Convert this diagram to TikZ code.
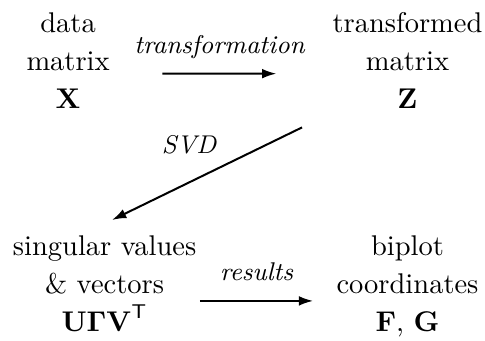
\documentclass[tikz,border=0pt]{standalone}
\usetikzlibrary{positioning, arrows.meta, calc}

\begin{document}
\begin{tikzpicture}[x=1pt, y=1pt,
    txt/.style={font=\fontsize{10}{13.33}\selectfont, align=center, inner sep=0pt, anchor=north},
    lbl/.style={font=\small\itshape, midway, anchor=base, yshift=7pt},
    arr/.style={-{Latex[length=5pt, width=3.4pt]}, line width=0.7pt}]
  \useasboundingbox (0,0) rectangle (170.2,-119.65);
  \node[txt] (dm) at (23.9,-4.3) {data\\matrix\\$\mathbf{X}$};
  \node[txt] (tm) at (143.0,-4.3) {transformed\\matrix\\$\mathbf{Z}$};
  \node[txt] (sv) at (36.7,-82.5) {singular values\\\& vectors\\$\mathbf{U\Gamma V}^{\mathsf{T}}$};
  \node[txt] (bc) at (143.0,-82.5) {biplot\\coordinates\\$\mathbf{F}$, $\mathbf{G}$};
  \draw[arr] ($(dm.east)+(18.3,-4.5)$) -- node[lbl] {transformation} ($(tm.west)+(-19.5,-4.5)$);
  \draw[arr] ($(tm.south)+(-37,-6.3)$) -- node[lbl, xshift=-6.3pt] {SVD} ($(sv.north)+(2.6,5.3)$);
  \draw[arr] ($(sv.east)+(1.1,-6.1)$) -- node[lbl] {results} ($(sv.east -| bc.west)+(-8,-6.1)$);
\end{tikzpicture}
\end{document}
